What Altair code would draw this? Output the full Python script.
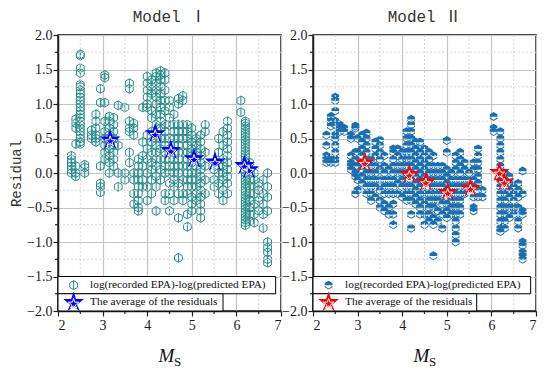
import altair as alt
import pandas as pd

# ---------------- data ----------------
mags_I = [2.3, 2.4, 2.5, 2.6, 2.75, 2.85, 2.95, 3.05, 3.15, 3.25, 3.35, 3.5, 3.6, 3.7, 3.8, 3.9,
          4.0, 4.1, 4.2, 4.3, 4.4, 4.5, 4.6, 4.7, 4.8, 4.9, 5.0, 5.1, 5.2, 5.3, 5.5, 5.6, 5.7, 5.8,
          6.1, 6.2, 6.3, 6.4, 6.5, 6.6, 6.7]
res_I = [
    [0.25, 0.2, 0.15, 0.1, 0.0, 0.05],
    [0.78, 0.72, 0.65, 0.42, 0.1, 0.0, -0.05],
    [1.72, 1.7, 1.52, 1.45, 1.28, 1.25, 1.2, 1.15, 1.1, 1.05, 1.0, 0.95, 0.9, 0.85, 0.8, 0.75,
     0.7, 0.65, 0.6, 0.55, 0.5, 0.45, 0.42],
    [0.08, 0.0, 0.12],
    [0.62, 0.55, 0.5],
    [0.85, 0.75, 0.65, 0.55, 0.5, 0.45],
    [1.22, 1.02, 0.1, -0.15, -0.2, -0.28],
    [1.42, 1.38, 1.02, 0.75, 0.6, 0.5, 0.4, 0.3, 0.2],
    [0.82, 0.75, 0.65, 0.55, 0.45, 0.35, 0.25, 0.15, 0.0],
    [0.8, 0.7, 0.6, 0.5, 0.4, 0.3, 0.2, 0.1],
    [0.98, 0.4, 0.0, -0.2],
    [0.95, 0.0, -0.1],
    [1.3, 1.22, 0.75, 0.65, 0.6, 0.3, 0.15],
    [0.72, 0.65, 0.55, 0.0, -0.1, -0.3, -0.45],
    [0.2, 0.1, 0.0, -0.1, -0.2, -0.3, -0.4, -0.5, -0.55],
    [0.95, 0.45, 0.25, 0.1, -0.1, -0.2],
    [1.4, 1.3, 1.2, 1.1, 1.0, 0.95, 0.55, 0.35, 0.2, 0.0, -0.2, -0.4],
    [1.35, 1.25, 1.15, 0.9, 0.8, 0.6, 0.45, 0.3, 0.15, 0.05, -0.1, -0.3],
    [1.45, 1.4, 1.3, 1.2, 1.1, 1.0, 0.85, 0.7, 0.5, 0.4, 0.3, 0.2, 0.1, -0.05, -0.2, -0.55],
    [1.48, 1.42, 1.35, 1.25, 1.15, 1.05, 0.95, 0.85, 0.75, 0.65, 0.5, 0.35, 0.2, 0.05, -0.1],
    [1.45, 1.35, 1.2, 1.05, 0.9, 0.7, 0.6, 0.5, 0.4, 0.3, 0.2, 0.1, 0.0, -0.3, -0.4],
    [1.05, 0.95, 0.8, 0.7, 0.5, 0.35, 0.2, 0.1, 0.0, -0.15, -0.3, -0.55],
    [0.85, 0.7, 0.6, 0.5, 0.4, 0.3, 0.2, 0.1, 0.0, -0.1, -0.2, -0.4],
    [1.08, 1.0, 0.7, 0.6, 0.5, 0.4, 0.3, 0.2, 0.1, 0.0, -0.15, -0.3, -0.65, -1.23],
    [1.12, 1.05, 0.7, 0.6, 0.5, 0.3, 0.1, -0.1, -0.3, -0.4],
    [0.7, 0.6, 0.5, 0.4, 0.3, 0.2, 0.1, 0.0, -0.1, -0.2, -0.3, -0.6, -0.78],
    [0.65, 0.55, 0.45, 0.35, 0.25, 0.15, 0.0, -0.1, -0.2, -0.35, -0.45, -0.55],
    [0.5, 0.4, 0.3, 0.2, 0.1, 0.0, -0.1, -0.2, -0.3, -0.4],
    [0.55, 0.45, 0.35, 0.25, 0.15, 0.05, -0.05, -0.15, -0.25, -0.35, -0.45, -0.55, -0.65],
    [0.7, 0.6, 0.3, 0.1, -0.1, -0.3],
    [0.05, -0.1, -0.2],
    [0.5, 0.3, 0.1, 0.0, -0.15, -0.3],
    [0.6, 0.4, 0.2, 0.1, 0.0, -0.1, -0.25, -0.4],
    [0.75, 0.65, 0.55, 0.45, 0.35, 0.25, 0.15, 0.05, -0.05, -0.15, -0.3],
    [1.05, 0.88],
    [0.75, 0.72, 0.68, 0.64, 0.6, 0.56, 0.52, 0.48, 0.44, 0.4, 0.36, 0.32, 0.28, 0.24, 0.2, 0.16,
     0.12, 0.08, 0.04, 0.0, -0.04, -0.08, -0.12, -0.16, -0.2, -0.24, -0.28, -0.32, -0.36, -0.4,
     -0.44, -0.48, -0.52, -0.56, -0.6, -0.64, -0.68, -0.72, -0.76],
    [0.15, 0.05, -0.1, -0.2, -0.3, -0.4, -0.5, -0.6, -0.7],
    [0.0, -0.1, -0.2, -0.3, -0.45, -0.6, -0.72],
    [-0.15, -0.25, -0.4, -0.55],
    [-0.1, -0.3, -0.45, -0.6, -0.8],
    [0.0, -0.2, -0.35, -0.55, -1.0, -1.08, -1.15, -1.25, -1.3],
]

mags_II = [2.3, 2.4, 2.5, 2.6, 2.7, 2.85, 2.95, 3.0, 3.1, 3.2, 3.3, 3.4, 3.5, 3.6, 3.7, 3.8, 3.9,
           4.0, 4.1, 4.2, 4.3, 4.4, 4.5, 4.6, 4.7, 4.8, 4.9, 5.0, 5.1, 5.2, 5.3, 5.4, 5.5, 5.6,
           5.7, 5.8, 6.05, 6.2, 6.3, 6.4, 6.5, 6.6, 6.7]
res_II = [
    [0.55, 0.4, 0.25, 0.2, 0.15],
    [0.82, 0.75, 0.68, 0.2, 0.15],
    [1.1, 1.05, 0.9, 0.75, 0.7, 0.55, 0.5, 0.4, 0.3, 0.2, 0.15],
    [0.7, 0.65, 0.6],
    [0.65, 0.6],
    [0.55, 0.5, 0.25, 0.15, 0.1, 0.05],
    [0.68, 0.65, 0.3, 0.2, 0.1, 0.0, -0.05, -0.3],
    [0.5, 0.3, 0.1, -0.1, -0.25],
    [0.55, 0.45, 0.35, 0.25, 0.15, 0.05, -0.05, -0.15],
    [0.58, 0.5, 0.4, 0.3, 0.2, 0.1, 0.0, -0.1, -0.2, -0.3],
    [0.2, 0.1, 0.0, -0.1, -0.2, -0.3, -0.4],
    [0.45, 0.35, 0.25, 0.1, 0.0, -0.1, -0.2, -0.35],
    [0.48, 0.4, 0.3, 0.2, 0.05, -0.1, -0.25, -0.4, -0.5],
    [0.25, 0.1, 0.0, -0.1, -0.2, -0.3, -0.45, -0.55],
    [0.05, -0.1, -0.2, -0.3, -0.5, -0.6],
    [0.35, 0.3, 0.2, 0.1, 0.0, -0.1, -0.2, -0.3, -0.45, -0.6, -0.75],
    [0.35, 0.25, 0.1, 0.0, -0.15, -0.3],
    [0.3, 0.2, 0.1, 0.0, -0.1, -0.2, -0.35],
    [0.6, 0.5, 0.4, 0.3, 0.2, 0.1, 0.0, -0.1, -0.2, -0.3, -0.4],
    [0.78, 0.7, 0.6, 0.5, 0.4, 0.3, 0.2, 0.1, 0.0, -0.1, -0.2, -0.3, -0.4, -0.6, -0.8],
    [0.45, 0.35, 0.25, 0.15, 0.05, -0.05, -0.15, -0.25, -0.35, -0.45],
    [0.45, 0.3, 0.2, 0.1, 0.0, -0.1, -0.2, -0.3, -0.4, -0.5, -0.6],
    [0.35, 0.25, 0.15, 0.05, -0.05, -0.15, -0.3, -0.45, -0.6, -0.75],
    [0.3, 0.2, 0.1, 0.0, -0.1, -0.2, -0.3, -0.4, -0.5, -0.6, -0.7],
    [0.25, 0.1, 0.0, -0.1, -0.2, -0.3, -0.4, -0.5, -0.65, -0.75, -1.2],
    [0.1, 0.0, -0.1, -0.2, -0.3, -0.4, -0.55, -0.7],
    [0.1, 0.0, -0.1, -0.2, -0.3, -0.45, -0.6, -0.8],
    [0.47, 0.3, 0.05, -0.05, -0.15, -0.25, -0.35, -0.45, -0.55, -0.65],
    [0.0, -0.1, -0.2, -0.3, -0.4, -0.5, -0.6],
    [0.25, 0.15, 0.05, -0.1, -0.2, -0.3, -0.4, -0.5, -0.6, -0.7, -0.8, -0.9, -1.0],
    [0.3, 0.2, 0.1, 0.0, -0.1, -0.2, -0.3, -0.4, -0.5, -0.6],
    [0.15, 0.05, -0.1, -0.2, -0.3],
    [0.0, -0.1, -0.2],
    [0.15, 0.05, -0.1, -0.2, -0.35, -0.5, -0.55],
    [0.35, 0.25, 0.15, 0.05, -0.05, -0.15, -0.25, -0.35],
    [-0.25, -0.35],
    [0.82, 0.65, 0.6],
    [0.6, 0.5, 0.4, 0.3, 0.2, 0.1, 0.0, -0.1, -0.2, -0.3, -0.4, -0.5, -0.6, -0.7, -0.8, -0.85],
    [0.0, -0.1, -0.2, -0.3, -0.4, -0.5, -0.6, -0.7, -0.8],
    [-0.05, -0.15, -0.25, -0.35, -0.5, -0.65],
    [-0.2, -0.3, -0.4, -0.5, -0.6],
    [-0.15, -0.25, -0.35, -0.5, -0.7, -0.8],
    [0.03, -0.3, -0.55, -0.6, -1.0, -1.05, -1.15, -1.2, -1.25],
]

star_M_I = [3.17, 4.18, 4.53, 5.05, 5.52, 6.18, 6.28]
star_R_I = [0.48, 0.57, 0.33, 0.21, 0.16, 0.11, 0.05]
star_M_II = [3.16, 4.16, 4.53, 5.02, 5.53, 6.18, 6.29]
star_R_II = [0.15, -0.02, -0.13, -0.28, -0.22, 0.01, -0.13]

legend_labels = ["log(recorded EPA)-log(predicted EPA)", "The average of the residuals"]

x_major = [2, 3, 4, 5, 6, 7]
x_minor = [2.5, 3.5, 4.5, 5.5, 6.5]
y_major = [-2, -1.5, -1, -0.5, 0, 0.5, 1, 1.5, 2]
y_minor = [-1.75, -1.25, -0.75, -0.25, 0.25, 0.75, 1.25, 1.75]

TEAL = "#2a8f8c"
BLUE = "#1a6fb0"

HEX_LINE = "M0,-1L0.866,-0.5L0.866,0.5L0,1L-0.866,0.5L-0.866,-0.5Z M0,-1L0,1"
HEX_HALF = ("M-0.866,-0.5L0,-1L0.866,-0.5L0.866,0.05L-0.866,0.05Z "
            "M-0.866,0.2L-0.866,0.5L0,1L0.866,0.5L0.866,0.2L0.66,0.2L0.66,0.38L0,0.76L-0.66,0.38L-0.66,0.2Z")
STAR = ("M0,-1L0.2245,-0.309L0.951,-0.309L0.309,0.2245L0.588,0.809L0,0.382L-0.588,0.809"
        "L-0.309,0.2245L-0.951,-0.309L-0.2245,-0.309Z")

W, H = 223, 276
XS = alt.Scale(domain=[2, 7], nice=False, zero=False)
YS = alt.Scale(domain=[-2, 2], nice=False, zero=False)
LABEL_KW = dict(labelFont="Liberation Serif", labelFontSize=14, labelColor="#1a1a1a",
                tickColor="#222222", domainColor="#222222", domainWidth=1.5, tickWidth=1.2,
                tickSize=5)


def build_points(mags, res):
    rows = []
    for m, col in zip(mags, res):
        for r in col:
            rows.append({"M": m, "R": r})
    return pd.DataFrame(rows)


def panel(mags, res, sM, sR, title, kind, ytitle, leg_top, leg_bot):
    df = build_points(mags, res)
    stars = pd.DataFrame({"M": sM, "R": sR})

    x_axis = alt.Axis(values=x_major, format="d", title=None, grid=True,
                      gridColor="#c4c4c4", gridWidth=1.2, labelPadding=2, **LABEL_KW)
    y_kw = dict(values=y_major, format=".1f", grid=True, gridColor="#c4c4c4",
                gridWidth=1.2, labelPadding=1, **LABEL_KW)
    if ytitle:
        y_axis = alt.Axis(title=ytitle, titleFont="Liberation Mono", titleFontSize=14,
                          titleFontWeight="normal", titleColor="#333333", titlePadding=3, **y_kw)
    else:
        y_axis = alt.Axis(title=None, **y_kw)

    def X(field="M:Q"):
        return alt.X(field, scale=XS, axis=x_axis)

    def Y(field="R:Q"):
        return alt.Y(field, scale=YS, axis=y_axis)

    if kind == "I":
        mark_kw = dict(shape=HEX_LINE, size=80, filled=False, color=TEAL, strokeWidth=1, opacity=1)
        star_color = "#0000ff"
    else:
        mark_kw = dict(shape=HEX_HALF, size=80, filled=True, color=BLUE, strokeWidth=0, opacity=1)
        star_color = "#ff0000"

    pts = alt.Chart(df).mark_point(**mark_kw).encode(x=X(), y=Y())

    xminor_df = pd.DataFrame({"M": x_minor})
    yminor_df = pd.DataFrame({"R": y_minor})
    gx_minor = alt.Chart(xminor_df).mark_rule(color="#d6d6d6", strokeDash=[2, 2], strokeWidth=1).encode(x=X())
    gy_minor = alt.Chart(yminor_df).mark_rule(color="#d6d6d6", strokeDash=[2, 2], strokeWidth=1).encode(y=Y())
    tx_minor = alt.Chart(xminor_df).mark_rule(color="#222222", strokeWidth=1.2).encode(
        x=X(), y=alt.value(H), y2=alt.value(H + 3))
    ty_minor = alt.Chart(yminor_df).mark_rule(color="#222222", strokeWidth=1.2).encode(
        y=Y(), x=alt.value(0), x2=alt.value(-3))

    star_big = alt.Chart(stars).mark_point(shape=STAR, size=470, filled=True,
                                           color=star_color, opacity=1).encode(x=X(), y=Y())
    star_in = alt.Chart(stars).mark_point(shape=STAR, size=120, filled=False, color="white",
                                          strokeWidth=1, opacity=1, yOffset=1.5).encode(x=X(), y=Y())

    legbox = pd.DataFrame({"M": [2.0, 2.0], "M2": [leg_top, leg_bot],
                           "R": [-1.5, -1.75], "R2": [-1.75, -2.0]})
    boxes = alt.Chart(legbox).mark_rect(fill="white", stroke="black", strokeWidth=1).encode(
        x=X(), x2="M2:Q", y=Y(), y2="R2:Q")
    legtext = alt.Chart(pd.DataFrame({"M": [2.72, 2.72], "R": [-1.625, -1.875],
                                      "t": legend_labels})).mark_text(
        align="left", baseline="middle", font="Liberation Serif", fontSize=11.3,
        color="#111111").encode(text="t:N", x=X(), y=Y())
    leg_sym = alt.Chart(pd.DataFrame({"M": [2.35], "R": [-1.625]})).mark_point(**mark_kw).encode(
        x=X(), y=Y())
    leg_star_df = pd.DataFrame({"M": [2.35], "R": [-1.875]})
    leg_star = alt.Chart(leg_star_df).mark_point(
        shape=STAR, size=470, filled=True, color=star_color, opacity=1).encode(x=X(), y=Y())
    leg_star_in = alt.Chart(leg_star_df).mark_point(
        shape=STAR, size=120, filled=False, color="white", strokeWidth=1, opacity=1,
        yOffset=1.5).encode(x=X(), y=Y())

    xt_M = alt.Chart(pd.DataFrame({"t": ["M"]})).mark_text(
        font="Liberation Serif", fontStyle="italic", fontSize=19, color="#111111",
        baseline="middle", align="center").encode(
        text="t:N", x=alt.value(W / 2 - 3), y=alt.value(H + 45))
    xt_S = alt.Chart(pd.DataFrame({"t": ["S"]})).mark_text(
        font="Liberation Serif", fontSize=13, color="#111111",
        baseline="middle", align="center").encode(
        text="t:N", x=alt.value(W / 2 + 8), y=alt.value(H + 51))

    ch = alt.layer(pts, gx_minor, gy_minor, tx_minor, ty_minor, star_big, star_in, boxes,
                   legtext, leg_sym, leg_star, leg_star_in, xt_M, xt_S)
    return ch.properties(
        width=W, height=H,
        title=alt.Title(title, font="Liberation Mono, Noto Sans CJK SC", fontSize=16,
                        fontWeight="normal", color="#333333", offset=3, anchor="middle"))


left = panel(mags_I, res_I, star_M_I, star_R_I, "Model Ⅰ", "I", "Residual", 6.88, 5.7)
right = panel(mags_II, res_II, star_M_II, star_R_II, "Model Ⅱ", "II", None, 6.88, 5.67)

chart = alt.hconcat(left, right, spacing=32, bounds="flush").properties(
    padding={"left": 0, "top": 0, "right": 0, "bottom": 0}
).configure_view(stroke="#111111", strokeWidth=1.5)

chart.save("out.html", embed_options={"renderer": "svg", "actions": False})
